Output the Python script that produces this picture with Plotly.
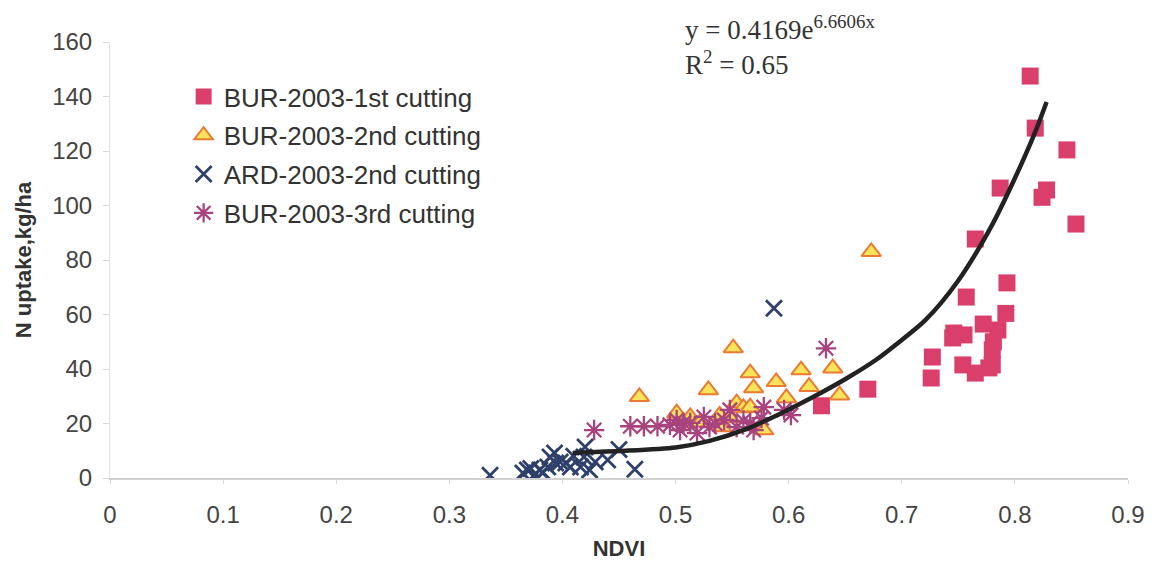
import plotly.graph_objects as go

# ---- data ----
bur1_x = [0.8135, 0.818, 0.846, 0.787, 0.828, 0.824, 0.854, 0.765, 0.793, 0.757,
          0.792, 0.772, 0.785, 0.746, 0.755, 0.745, 0.781, 0.780, 0.727, 0.754,
          0.780, 0.777, 0.765, 0.726, 0.670, 0.629]
bur1_y = [147.5, 128.4, 120.4, 106.4, 105.7, 103.0, 93.2, 87.7, 71.6, 66.4,
          60.4, 56.5, 54.3, 53.2, 52.5, 51.4, 50.0, 47.0, 44.4, 41.5,
          41.5, 40.4, 38.5, 36.7, 32.6, 26.5]

bur2_x = [0.468, 0.501, 0.513, 0.529, 0.539, 0.541, 0.551, 0.554, 0.560, 0.566,
          0.566, 0.569, 0.578, 0.589, 0.598, 0.611, 0.618, 0.639, 0.645, 0.673,
          0.522, 0.548]
bur2_y = [29.8, 23.8, 22.4, 32.3, 23.0, 18.7, 47.7, 27.5, 25.7, 26.0,
          38.5, 33.0, 17.6, 35.3, 29.4, 39.6, 33.5, 40.3, 30.4, 83.0,
          20.5, 22.0]

ard_x = [0.336, 0.365, 0.369, 0.375, 0.380, 0.389, 0.387, 0.393, 0.394, 0.398,
         0.403, 0.407, 0.416, 0.419, 0.420, 0.424, 0.429, 0.440, 0.450, 0.464,
         0.587, 0.372, 0.383, 0.410]
ard_y = [1.0, 1.8, 2.9, 1.1, 2.9, 7.7, 4.0, 9.2, 5.5, 5.9,
         5.5, 4.0, 4.0, 7.7, 11.4, 2.9, 5.9, 6.6, 10.5, 3.2,
         62.3, 3.5, 2.0, 8.0]

bur3_x = [0.428, 0.460, 0.472, 0.484, 0.495, 0.501, 0.504, 0.507, 0.513, 0.519,
          0.525, 0.530, 0.543, 0.548, 0.554, 0.566, 0.569, 0.576, 0.578, 0.596,
          0.602, 0.633, 0.535, 0.560]
bur3_y = [17.6, 19.0, 19.0, 19.0, 19.5, 21.3, 17.6, 20.2, 20.2, 16.5,
          22.4, 18.7, 21.3, 25.0, 18.7, 20.2, 17.6, 22.0, 26.0, 25.0,
          23.1, 47.6, 20.0, 21.0]

trend_x = [0.409, 0.45, 0.50, 0.53, 0.563, 0.592, 0.622, 0.651, 0.677, 0.695,
           0.721, 0.750, 0.780, 0.800, 0.818, 0.828]
trend_y = [9.2, 9.9, 11.2, 13.6, 18.0, 23.5, 29.8, 36.5, 43.3, 49.0,
           58.0, 72.5, 93.0, 110.0, 127.0, 138.0]

series_names = ["BUR-2003-1st cutting", "BUR-2003-2nd cutting",
                "ARD-2003-2nd cutting", "BUR-2003-3rd cutting"]
equation_text = "y = 0.4169e<sup>6.6606x</sup><br>R<sup>2</sup> = 0.65"

FONT = "Liberation Sans, Arial, sans-serif"
SERIF = "Liberation Serif, Times New Roman, serif"

fig = go.Figure()

fig.add_trace(go.Scatter(
    x=bur1_x, y=bur1_y, mode="markers", name=series_names[0], legendgroup="a",
    marker=dict(symbol="square", size=17, color="#da3f6c")))

fig.add_trace(go.Scatter(
    x=bur2_x, y=bur2_y, mode="markers", name=series_names[1], legendgroup="b",
    marker=dict(symbol="triangle-up", size=17, color="#f8e35a",
                line=dict(color="#eb7a35", width=2))))

fig.add_trace(go.Scatter(
    x=ard_x, y=ard_y, mode="markers", name=series_names[2], legendgroup="c",
    marker=dict(symbol="x-thin-open", size=16, color="#2f406b",
                line=dict(color="#2f406b", width=2.8))))

fig.add_trace(go.Scatter(
    x=bur3_x, y=bur3_y, mode="markers", name=series_names[3], legendgroup="d",
    marker=dict(symbol="asterisk-open", size=17, color="#a8437e",
                line=dict(color="#a8437e", width=2.3))))

fig.add_trace(go.Scatter(
    x=trend_x, y=trend_y, mode="lines", showlegend=False,
    line=dict(color="#222222", width=4.5, shape="spline", smoothing=0.8),
    hoverinfo="skip"))

fig.update_layout(
    width=1157, height=571,
    paper_bgcolor="white", plot_bgcolor="white",
    margin=dict(l=110, r=24, t=42, b=93),
    font=dict(family=FONT, size=24, color="#444444"),
    legend=dict(x=(184 - 110) / 1023, y=(478 - 73) / 436,
                xanchor="left", yanchor="top",
                font=dict(size=26, color="#333333", family=FONT),
                bgcolor="rgba(0,0,0,0)", tracegroupgap=2,
                itemwidth=30),
    xaxis=dict(range=[0, 0.9], dtick=0.1, tick0=0, showgrid=False,
               zeroline=False, showline=True, linecolor="#d0d0d0", linewidth=1.5,
               ticks="outside", ticklen=4, tickcolor="#d8d8d8",
               ticklabelstandoff=10,
               tickfont=dict(size=24, color="#444444"),
               title=dict(text="<b>NDVI</b>", font=dict(size=22, color="#333333"),
                          standoff=14)),
    yaxis=dict(range=[0, 160], dtick=20, showgrid=False, zeroline=False,
               showline=True, linecolor="#e2e2e2", linewidth=1,
               ticks="outside", ticklen=6, tickcolor="#d8d8d8",
               ticklabelstandoff=6,
               tickfont=dict(size=24, color="#444444"),
               title=dict(text="<b>N uptake,kg/ha</b>",
                          font=dict(size=22, color="#333333"), standoff=14)),
    showlegend=True,
)

fig.add_annotation(
    xref="paper", yref="paper", x=(686 - 110) / 1023, y=(478 - 9) / 436,
    xanchor="left", yanchor="top", showarrow=False, align="left",
    text=equation_text,
    font=dict(family=SERIF, size=27, color="#333333"))

fig.write_html("out.html")
